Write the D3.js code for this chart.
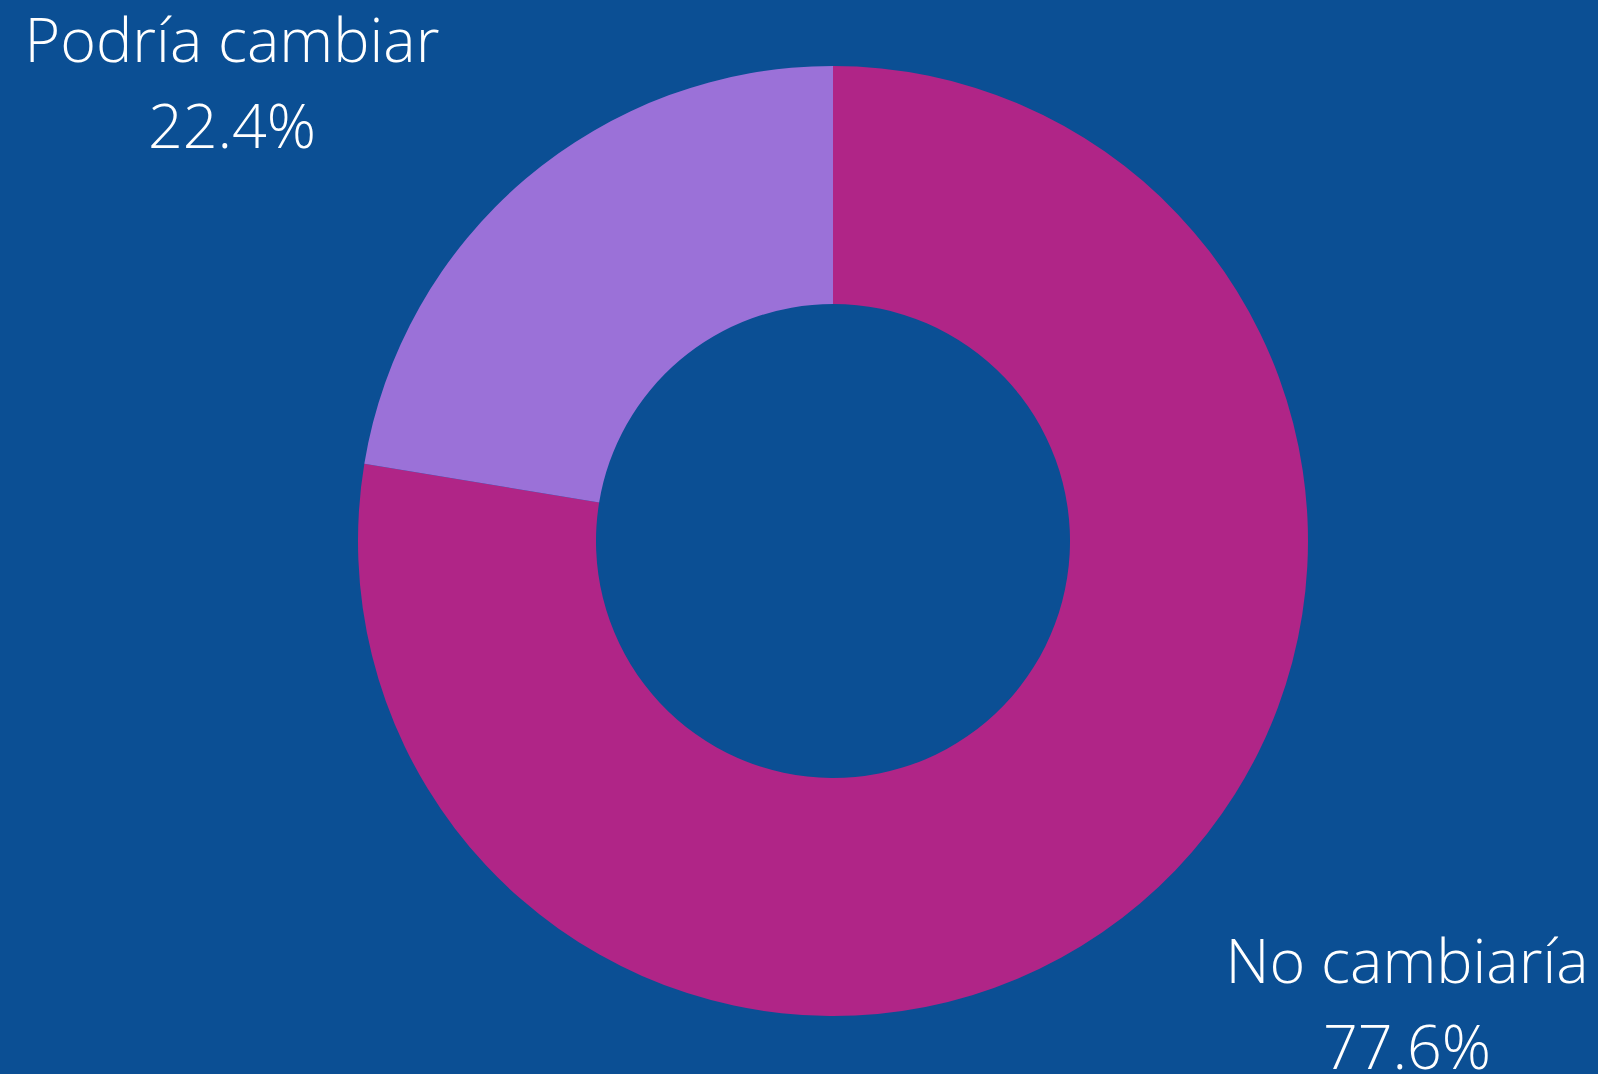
<!DOCTYPE html>
<html>
<head>
<meta charset="utf-8">
<script src="https://cdn.jsdelivr.net/npm/d3@7"></script>
<style>
  html, body { margin: 0; padding: 0; background: #0b4f94; overflow: hidden; }
  text { font-family: "Open Sans", sans-serif; font-weight: 300; fill: #ffffff; }
</style>
</head>
<body>
<div id="chart"></div>
<script>
var labels = ["No cambiaría", "Podría cambiar"];
var values = [77.6, 22.4];
var colors = ["#b02587", "#9b71d8"];

var width = 1598,
    height = 1074;

var cx = 833, cy = 541,
    outer = 475, inner = 237;

// where each label block is centered (x) and first baseline (y)
var labelPos = [[1407, 983], [232, 62]];

var svg = d3.select("#chart")
    .append("svg")
    .attr("width", width)
    .attr("height", height);

svg.append("rect")
    .attr("width", width)
    .attr("height", height)
    .attr("fill", "#0b4f94");

var pie = d3.pie().sort(null).value(function(d) { return d; });
var arc = d3.arc().innerRadius(inner).outerRadius(outer);

var g = svg.append("g").attr("transform", "translate(" + cx + "," + cy + ")");

g.selectAll("path")
    .data(pie(values))
    .enter()
    .append("path")
    .attr("d", arc)
    .attr("fill", function(d, i) { return colors[i]; });

var lbl = svg.selectAll("text.lbl")
    .data(labels)
    .enter()
    .append("text")
    .attr("class", "lbl")
    .attr("text-anchor", "middle")
    .attr("font-size", 61)
    .attr("x", function(d, i) { return labelPos[i][0]; })
    .attr("y", function(d, i) { return labelPos[i][1]; });

lbl.append("tspan")
    .attr("x", function(d, i) { return labelPos[i][0]; })
    .text(function(d) { return d; });

lbl.append("tspan")
    .attr("x", function(d, i) { return labelPos[i][0]; })
    .attr("dy", 86)
    .text(function(d, i) { return values[i].toFixed(1) + "%"; });
</script>
</body>
</html>
